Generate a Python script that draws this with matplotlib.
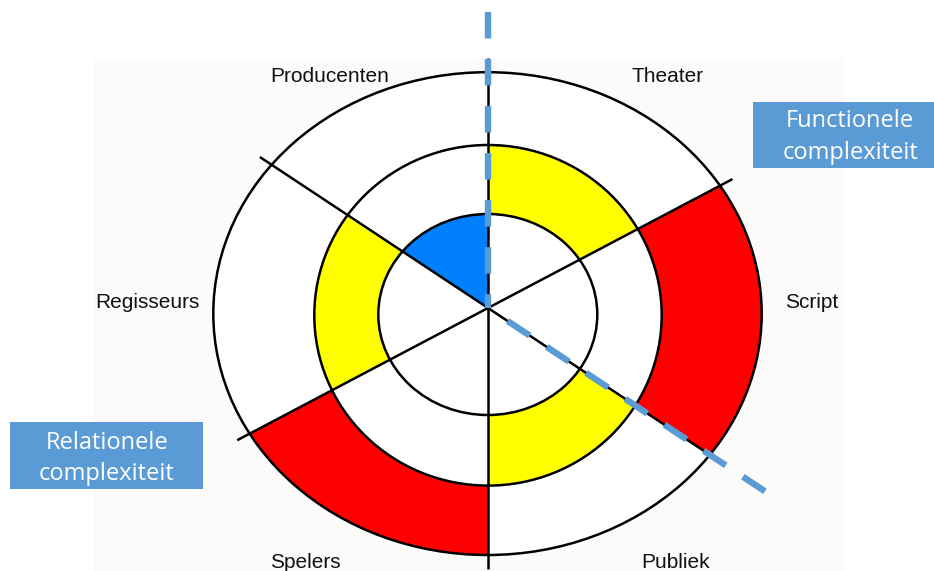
import numpy as np
import matplotlib
matplotlib.use("Agg")
import matplotlib.pyplot as plt
from matplotlib.patches import Rectangle, Ellipse, Polygon

# ---- data ----
categories = ["Theater", "Script", "Publiek", "Spelers", "Regisseurs", "Producenten"]
levels = [2, 3, 2, 3, 2, 1]            # ring that is coloured (1 = inner, 3 = outer)
level_colors = {1: "#007FFF", 2: "#FFFF00", 3: "#FF0000"}
# sector boundary angles (degrees, counter-clockwise from east), clockwise order
bounds = [90.0, 27.8, -33.5, -90.0, -152.2, -213.5, -270.0]
axis_labels = ["Functionele\ncomplexiteit", "Relationele\ncomplexiteit"]

# ---- layout (pixel space) ----
W, H = 934, 571
origin = np.array([488.0, 308.0])
# ring ellipses: (cx, cy, rx, ry)
rings = [(487.8, 314.5, 109.5, 100.5),
         (488.0, 315.3, 173.7, 170.3),
         (487.5, 313.6, 274.2, 241.4)]

fig = plt.figure(figsize=(W / 100, H / 100), dpi=100)
ax = fig.add_axes([0, 0, 1, 1])
ax.set_xlim(0, W)
ax.set_ylim(H, 0)
ax.axis("off")


def ray_hit(t_deg, ring):
    cx, cy, a, b = ring
    t = np.radians(np.atleast_1d(t_deg))
    dx, dy = np.cos(t), -np.sin(t)
    ux, uy = origin[0] - cx, origin[1] - cy
    A = dx ** 2 / a ** 2 + dy ** 2 / b ** 2
    B = 2 * (ux * dx / a ** 2 + uy * dy / b ** 2)
    C = ux ** 2 / a ** 2 + uy ** 2 / b ** 2 - 1
    s = (-B + np.sqrt(B ** 2 - 4 * A * C)) / (2 * A)
    return np.column_stack([origin[0] + s * dx, origin[1] + s * dy]), s


# background of pasted picture
ax.add_patch(Rectangle((94, 58), 843 - 94, H - 58, facecolor="#fcfbf9",
                       edgecolor="none", zorder=0))
cx, cy, a, b = rings[2]
ax.add_patch(Ellipse((cx, cy), 2 * a, 2 * b, facecolor="white",
                     edgecolor="none", zorder=1))

# coloured cells
for i, (cat, lev) in enumerate(zip(categories, levels)):
    t_hi, t_lo = bounds[i], bounds[i + 1]
    ts = np.linspace(t_lo, t_hi, 80)
    outer, _ = ray_hit(ts, rings[lev - 1])
    if lev == 1:
        inner = origin[None, :]
    else:
        inner, _ = ray_hit(ts[::-1], rings[lev - 2])
    pts = np.vstack([outer, inner])
    ax.add_patch(Polygon(pts, closed=True, facecolor=level_colors[lev],
                         edgecolor="none", zorder=2))

# ring outlines
for (cx, cy, a, b) in rings:
    ax.add_patch(Ellipse((cx, cy), 2 * a, 2 * b, facecolor="none",
                         edgecolor="black", lw=1.8, zorder=3))

# radial lines
for t in bounds[:-1]:
    _, s = ray_hit(t, rings[2])
    L = s[0] + 14
    tr = np.radians(t)
    ax.plot([origin[0], origin[0] + L * np.cos(tr)],
            [origin[1], origin[1] - L * np.sin(tr)],
            color="black", lw=1.8, solid_capstyle="butt", zorder=4)

# labels
label_pos = {"Producenten": (330, 82.5), "Theater": (668, 82.5),
             "Script": (812, 308), "Publiek": (676, 568),
             "Spelers": (305, 568), "Regisseurs": (147, 308)}
for cat in categories:
    x, y = label_pos[cat]
    ax.text(x, y, cat, ha="center", va="baseline", fontsize=15,
            family="Liberation Sans", color="#111111", zorder=5)

# dashed complexity axes
dash_lw = 4.6
on, off = 4.15, 3.21           # in units of line width
func_len, rel_len = 296, 333
p_top = origin + func_len * np.array([0, -1])
ax.plot([p_top[0], origin[0]], [p_top[1], origin[1]], color="#5B9BD5",
        lw=dash_lw, linestyle=(0, (on, off)), dash_capstyle="butt", zorder=6)
tr = np.radians(bounds[2])
u = np.array([np.cos(tr), -np.sin(tr)])
p_start = origin + 3 * u
p_rel = origin + rel_len * u
ax.plot([p_start[0], p_rel[0]], [p_start[1], p_rel[1]], color="#5B9BD5",
        lw=dash_lw, linestyle=(on, (on, off)), dash_capstyle="butt", zorder=6)

# label boxes
boxes = [((752.7, 101.7), 934 - 752.7, 66.6, 850, (127.3, 159.0)),
         ((10, 422.3), 193.3, 67.0, 106.7, (449.0, 480.5))]
for lab, (xy, w, h, tx, tys) in zip(axis_labels, boxes):
    ax.add_patch(Rectangle(xy, w, h, facecolor="#5B9BD5", edgecolor="none",
                           zorder=7))
    for line, ty in zip(lab.split("\n"), tys):
        ax.text(tx, ty, line, ha="center", va="baseline", fontsize=17,
                family="Open Sans", color="white", zorder=8)

fig.savefig("out.png", dpi=100)
